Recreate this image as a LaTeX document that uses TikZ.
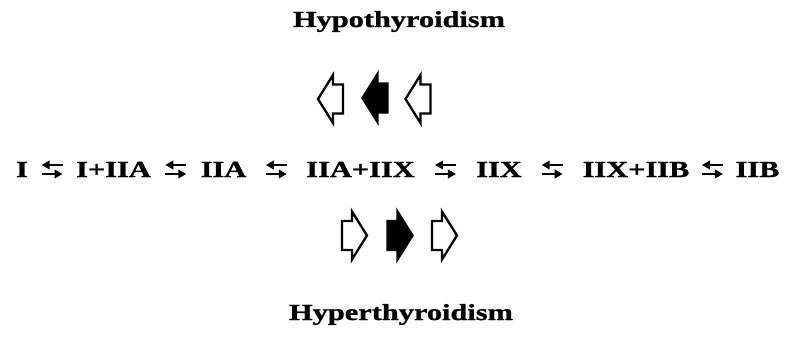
\documentclass[tikz,border=0pt]{standalone}
\usepackage{fontspec}
\setmainfont[FakeStretch=1.32, FakeBold=1.2]{Liberation Serif}
\usetikzlibrary{calc,arrows.meta}
\begin{document}
\begin{tikzpicture}[x=1pt,y=-1pt,
  lbl/.style={font=\fontsize{23}{26}\selectfont\bfseries, inner sep=0pt, anchor=base},
  exch/.style={line width=2.6pt, -{Triangle[length=8pt,width=8.5pt]}},
  larr/.pic={\draw[line width=2.3pt, line join=miter, pic actions] (-12.5,0) -- (2.5,-24) -- (2.5,-14.5) -- (12.5,-14.5) -- (12.5,14.5) -- (2.5,14.5) -- (2.5,24) -- cycle;},
  rarr/.pic={\draw[line width=2.3pt, line join=miter, pic actions] (12.5,0) -- (-2.5,-24) -- (-2.5,-14.5) -- (-12.5,-14.5) -- (-12.5,14.5) -- (-2.5,14.5) -- (-2.5,24) -- cycle;}]
\fill[white] (0,0) rectangle (788,337);
\path[use as bounding box] (0,0) rectangle (788,337);

\node[lbl] (hypo) at (399,27) {Hypothyroidism};
\node[lbl] (hyper) at (401,320) {Hyperthyroidism};

\pic at (330.5,99) {larr};
\pic[fill=black] at (375,98) {larr};
\pic at (418,99) {larr};

\pic at (354.5,235.5) {rarr};
\pic[fill=black] at (400,235.5) {rarr};
\pic at (444.5,235.5) {rarr};

\node[lbl] (n1) at (22,177) {I};
\node[lbl] (n2) at (113.5,177) {I+IIA};
\node[lbl] (n3) at (223.5,177) {IIA};
\node[lbl] (n4) at (360.5,177) {IIA+IIX};
\node[lbl] (n5) at (499,177) {IIX};
\node[lbl] (n6) at (636,177) {IIX+IIB};
\node[lbl] (n7) at (757.5,177) {IIB};

\foreach \a/\b in {n1/n2,n2/n3,n3/n4,n4/n5,n5/n6,n6/n7}{
  \coordinate (m-\a) at ($(\a.base east)!0.5!(\b.base west)$);
  \draw[exch] ($(m-\a)+(10.5,-12)$) -- ($(m-\a)+(-10.5,-12)$);
  \draw[exch] ($(m-\a)+(-10.5,-3)$) -- ($(m-\a)+(10.5,-3)$);
}
\end{tikzpicture}
\end{document}
